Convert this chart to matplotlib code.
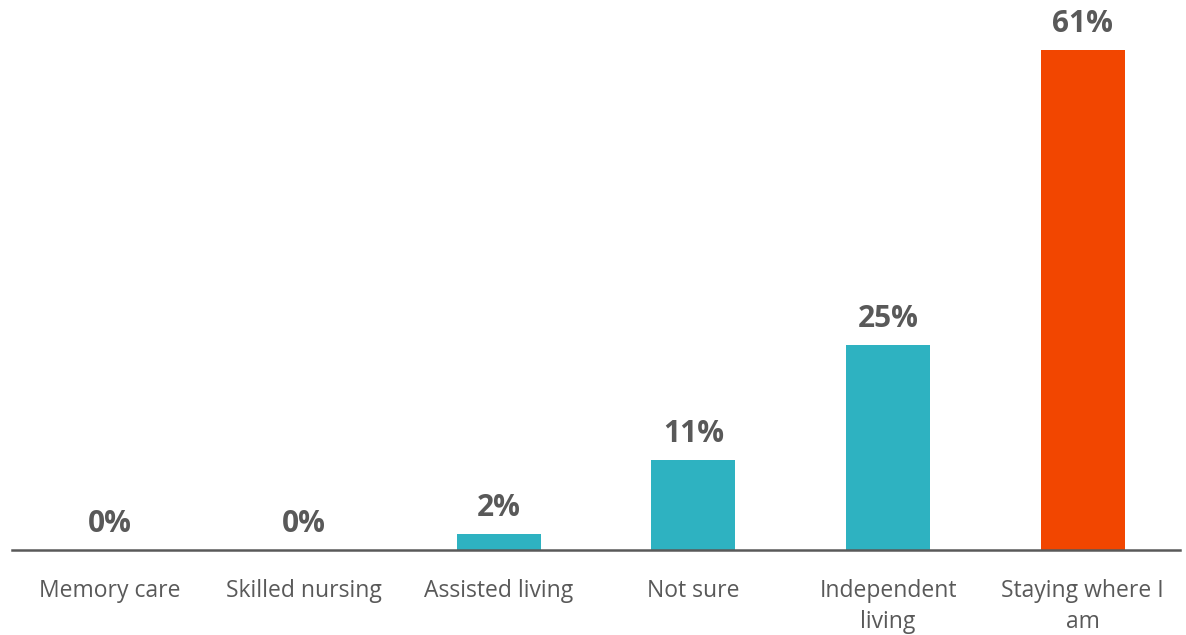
import matplotlib
matplotlib.use("Agg")
import matplotlib.pyplot as plt

categories = ["Memory care", "Skilled nursing", "Assisted living", "Not sure",
              "Independent\nliving", "Staying where I\nam"]
values = [0, 0, 2, 11, 25, 61]
labels = ["0%", "0%", "2%", "11%", "25%", "61%"]
colors = ["#2EB2C1"] * 5 + ["#F24600"]

plt.rcParams["font.family"] = ["Open Sans", "DejaVu Sans"]

fig = plt.figure(figsize=(11.86, 6.35), dpi=100)
ax = fig.add_axes([12 / 1186, 85 / 635, 1168 / 1186, 549 / 635])

x = range(len(categories))
bars = ax.bar(x, values, width=0.43, color=colors, zorder=2)

for rect, lab in zip(bars, labels):
    ax.annotate(lab, (rect.get_x() + rect.get_width() / 2, rect.get_height()),
                xytext=(0, 8), textcoords="offset points",
                ha="center", va="bottom", fontsize=21.5, fontweight="bold",
                color="#595959")

ax.set_xlim(-0.5, len(categories) - 0.5)
ax.set_ylim(0, 67)
ax.set_yticks([])
ax.set_xticks(list(x))
ax.set_xticklabels(categories, fontsize=16.5, color="#595959", linespacing=1.4)
ax.tick_params(axis="x", length=0, pad=21)

for side in ("top", "right", "left"):
    ax.spines[side].set_visible(False)
ax.spines["bottom"].set_color("#595959")
ax.spines["bottom"].set_linewidth(1.8)

fig.savefig("out.png", dpi=100, facecolor="white")
